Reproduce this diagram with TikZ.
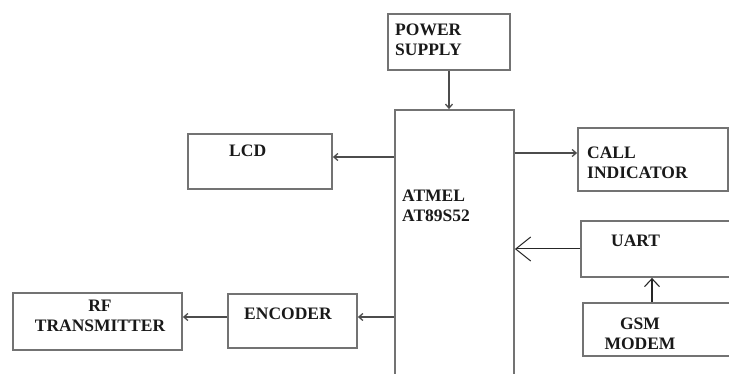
\documentclass[tikz,border=0pt]{standalone}
\usepackage{fontspec}
\setmainfont{Liberation Serif}
\usetikzlibrary{arrows.meta,positioning}

\begin{document}
\begin{tikzpicture}[x=1pt,y=-1pt,
  blk/.style={draw=black!55, line width=1.8pt, inner sep=0pt},
  lbl/.style={inner sep=0pt, font=\fontsize{17.5}{20}\selectfont\bfseries, text=black!90},
  sig/.style={draw=black!70, line width=1.3pt, -{Straight Barb[length=4pt,width=7pt]}},
  >=latex]

\useasboundingbox (0,0) rectangle (729,374);

% blocks
\path
(449,42)     node[blk, minimum width=122pt, minimum height=56pt] (power) {}
(454.5,250)  node[blk, minimum width=119pt, minimum height=280pt] (mcu) {}
(260,161.5)  node[blk, minimum width=144pt, minimum height=55pt] (lcd) {}
(653,159.5)  node[blk, minimum width=150pt, minimum height=63pt] (call) {}
(660.5,249)  node[blk, minimum width=159pt, minimum height=56pt] (uart) {}
(661.5,329.5) node[blk, minimum width=157pt, minimum height=53pt] (gsm) {}
(97.5,321.5) node[blk, minimum width=169pt, minimum height=57pt] (rf) {}
(292.5,321)  node[blk, minimum width=129pt, minimum height=54pt] (enc) {}
;

% texts
\path
(395,24)  node[lbl, anchor=north west, align=left] (powertxt) {POWER\\SUPPLY}
(402,190) node[lbl, anchor=north west, align=left] (mcutxt) {ATMEL\\AT89S52}
(229,145) node[lbl, anchor=north west] (lcdtxt) {LCD}
(587,147) node[lbl, anchor=north west, align=left] (calltxt) {CALL\\INDICATOR}
(611,235) node[lbl, anchor=north west] (uarttxt) {UART}
(640,318) node[lbl, anchor=north, align=center] (gsmtxt) {GSM\\MODEM}
(100,300) node[lbl, anchor=north, align=center] (rftxt) {RF\\TRANSMITTER}
(244,308) node[lbl, anchor=north west] (enctxt) {ENCODER}
;

% end points off the block centres
\coordinate (lcdin)  at ([yshift=4.5pt]lcd.east);
\coordinate (callin) at ([yshift=6.5pt]call.west);
\coordinate (encin)  at ([yshift=4pt]enc.east);
\coordinate (rfin)   at ([yshift=4.5pt]rf.east);
\coordinate (gsmout) at ([xshift=-9.5pt]gsm.north);

% connections
\draw[sig] (power.south) -- (power.south |- mcu.north);
\draw[sig] (mcu.west |- lcdin) -- (lcdin);
\draw[sig] (mcu.east |- callin) -- (callin);
\draw[sig] (mcu.west |- encin) -- (encin);
\draw[sig] (enc.west |- rfin) -- (rfin);
\draw[black!85, line width=1pt, -{Straight Barb[length=15pt,width=24pt]}] (uart.west) -- (uart.west -| mcu.east);
\draw[black!85, line width=1.1pt, -{Straight Barb[length=8pt,width=15pt]}] (gsmout) -- (gsmout |- uart.south);

\end{tikzpicture}
\end{document}
